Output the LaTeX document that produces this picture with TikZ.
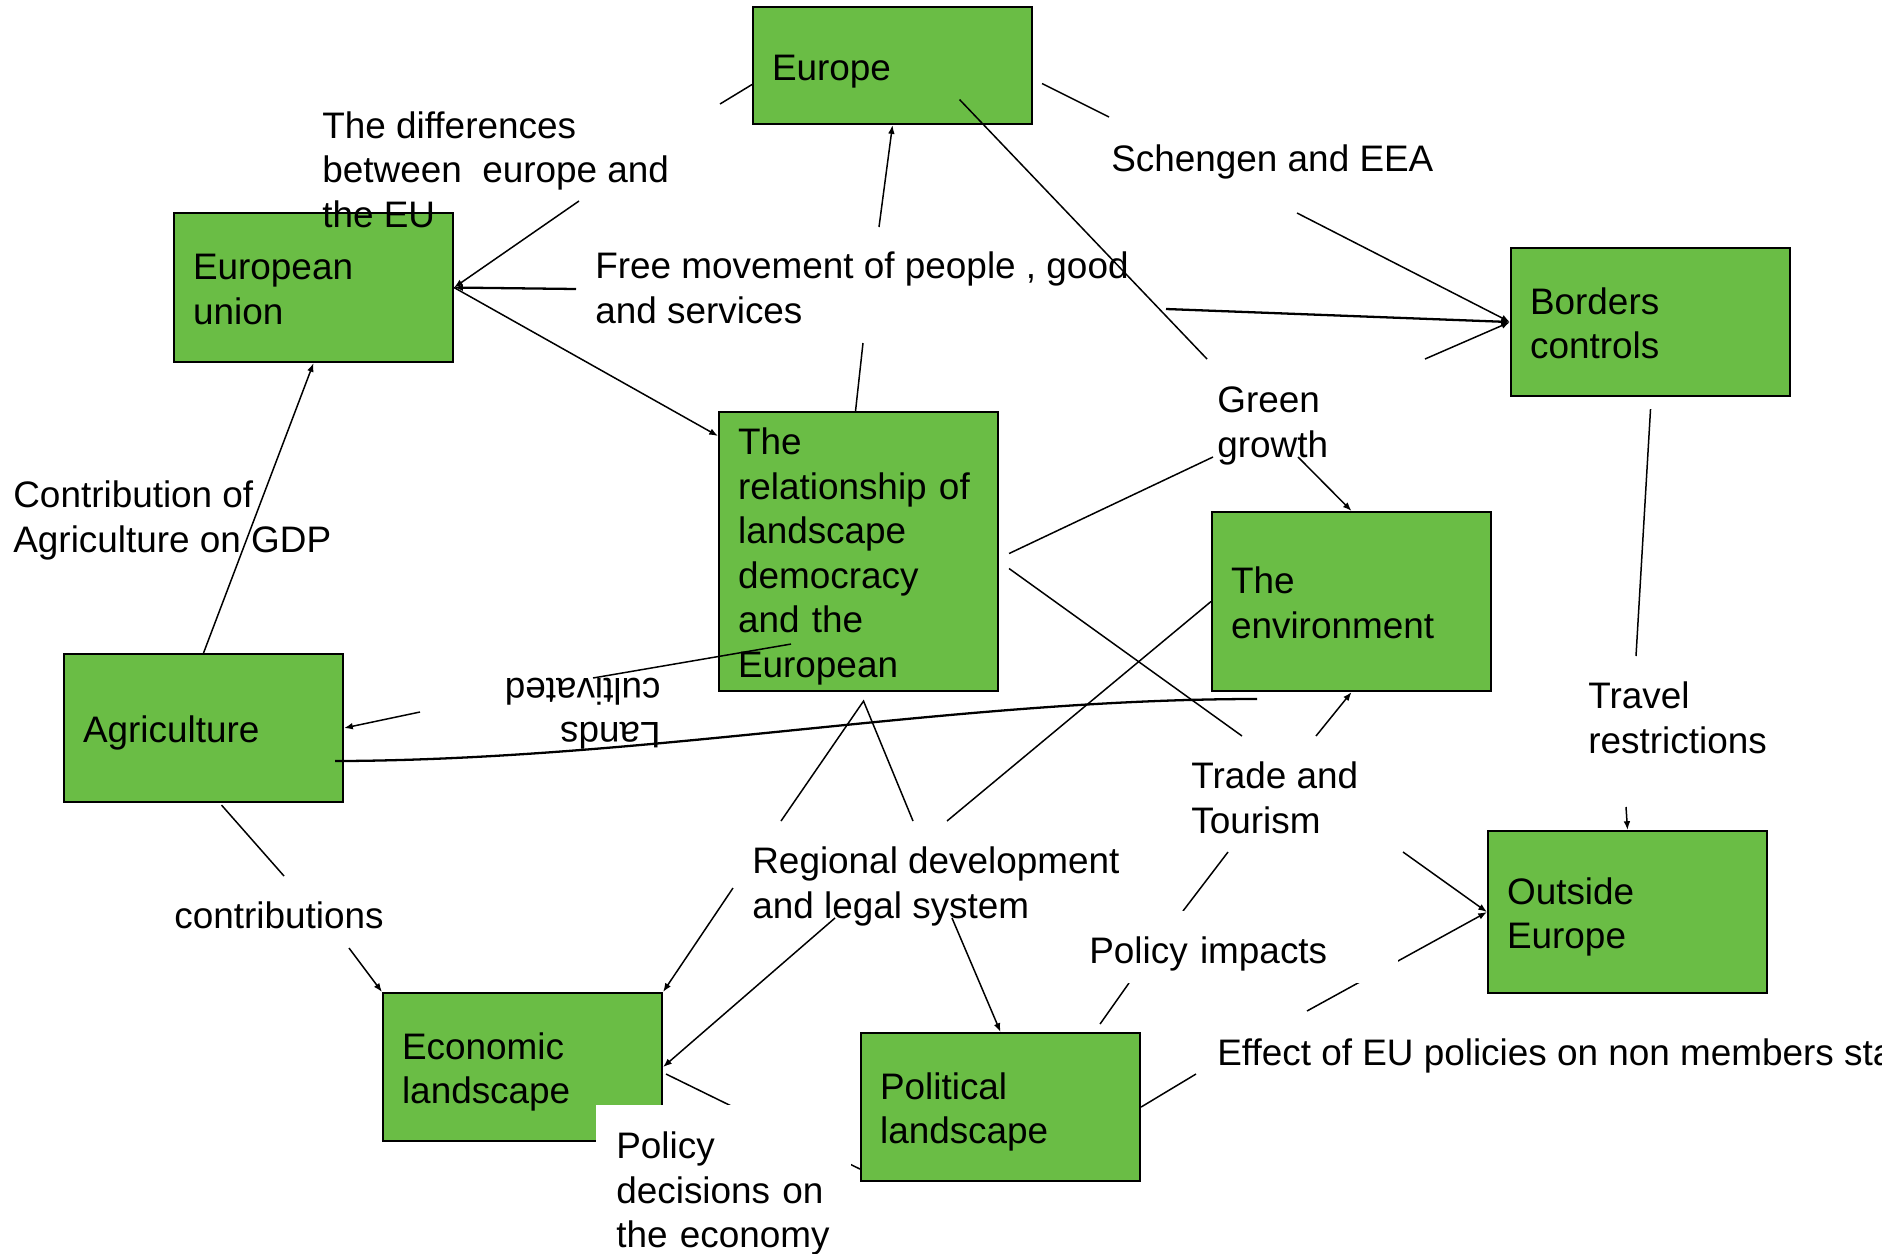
\documentclass[tikz,border=0pt]{standalone}
\usepackage{fontspec}
\setmainfont{Liberation Sans}
\usepackage{tikz}
\usetikzlibrary{
  arrows.meta,
  calc
}
\definecolor{boxgreen}{RGB}{106,189,69}
\tikzset{
  box/.style={
    rectangle, draw=black, line width=1.2pt, fill=boxgreen,
    anchor=north west, minimum width=5.58cm, text width=4.82cm,
    inner xsep=0.38cm, inner ysep=0pt, align=left,
    execute at begin node={\rule{0pt}{0.74cm}},
    execute at end node={\rule[-0.16cm]{0pt}{0.16cm}}
  },
  lbl/.style={
    anchor=base west, inner sep=0pt, align=left
  },
  whitelbl/.style={
    fill=white, anchor=north west, align=left
  },
  link/.style={line width=0.85pt, color=black},
  thicklink/.style={line width=1.3pt, color=black},
  arrow/.style={-{Latex[length=5pt,width=3.8pt]}, line width=0.85pt, color=black},
  thickarrow/.style={arrow, line width=1.3pt}
}

\begin{document}
\begin{tikzpicture}[x=0.02cm, y=-0.02cm, font=\fontsize{21}{25.3}\selectfont]
\useasboundingbox (0,0) rectangle (1903,1254);

\node[box, minimum height=2.34cm] (europe) at (752,6) {Europe};
\node[box, minimum height=2.98cm] (eu) at (173,212) {European\\union};
\node[box, minimum height=2.96cm] (borders) at (1510,247) {Borders\\controls};
\node[box, minimum height=5.58cm] (rel) at (718,411)
  {The\\relationship of\\landscape\\democracy\\and the\\European};
\node[box, minimum height=3.58cm] (env) at (1211,511) {The\\environment};
\node[box, minimum height=2.96cm] (agri) at (63,653) {Agriculture};
\node[box, minimum height=3.24cm] (outside) at (1487,830) {Outside\\Europe};
\node[box, minimum height=2.96cm] (econ) at (382,992) {Economic\\landscape};
\node[box, minimum height=2.96cm] (pol) at (860,1032) {Political\\landscape};

% multi-line labels sit on the baseline of their last line
\node[lbl] (diff) at (322,227) {The differences\\between\ \ europe and\\the EU};
\node[lbl] (free) at (595,323) {Free movement of people , good\\and services};
\node[lbl] (schengen) at (1111,171) {Schengen and EEA};
\node[lbl] (green) at (1217,457) {Green\\growth};
\node[lbl] (contrib) at (13,552) {Contribution of\\Agriculture on GDP};
\node[lbl, rotate=180] (lands) at (661,678) {Lands\\cultivated};
\node[lbl] (contribs) at (174,928) {contributions};
\node[lbl] (regional) at (752,918) {Regional development\\and legal system};
\node[lbl] (trade) at (1191,833) {Trade and\\Tourism};
\node[lbl] (travel) at (1588,753) {Travel\\restrictions};

\coordinate (diffN) at (720,104);
\coordinate (diffE) at (579,201);
\coordinate (freeW) at (576,289);
\coordinate (freeN) at (879,227);
\coordinate (freeS) at (863,343);
\coordinate (freeE) at (1166,309);
\coordinate (schW) at (1109,117);
\coordinate (schS) at (1297,213);
\coordinate (greenN) at (1207,359);
\coordinate (greenE) at (1425,359);
\coordinate (greenW) at (1213,457);
\coordinate (greenS) at (1298,457);
\coordinate (tradeNW) at (1242,736);
\coordinate (tradeN) at (1316,736);
\coordinate (tradeS) at (1228,852);
\coordinate (tradeE) at (1403,852);
\coordinate (travN) at (1636,656);
\coordinate (travS) at (1626,807);
\coordinate (contrN) at (284,876);
\coordinate (contrS) at (349,948);
\coordinate (regNW) at (781,821);
\coordinate (regN) at (913,821);
\coordinate (regNE) at (947,821);
\coordinate (regW) at (733,888);
\coordinate (regSW) at (835,918);
\coordinate (regSE) at (952,918);
\coordinate (landsN) at (593,678);
\coordinate (landsE) at (1257,699);
\coordinate (landsW) at (420,712);
\coordinate (impN) at (1183,911);
\coordinate (impS) at (1129,983);
\coordinate (effN) at (1307,1011);
\coordinate (effW) at (1196,1074);

\draw[link] ($(europe.west)+(0,19)$) -- (diffN);
\draw[arrow] (diffE) -- (eu.east);
\draw[thickarrow] (freeW) -- (eu.east);
\draw[arrow] (eu.east) -- ($(rel.north west)+(0,25)$);
\draw[arrow] (freeN) -- (europe.south);
\draw[link] ($(rel.north)+(-3,0)$) -- (freeS);
\draw[link] ($(europe.center)+(67,34)$) -- (greenN);
\draw[link] ($(europe.east)+(9,18)$) -- (schW);
\draw[arrow] (schS) -- (borders.west);
\draw[thickarrow] (freeE) -- (borders.west);
\draw[arrow] (greenE) -- (borders.west);
\draw[link] ($(borders.south)+(0,12)$) -- (travN);
\draw[arrow] (travS) -- (outside.north);
\draw[link] ($(rel.east)+(10,2)$) -- (greenW);
\draw[arrow] (greenS) -- (env.north);
\draw[link] ($(rel.east)+(10,17)$) -- (tradeNW);
\draw[arrow] (tradeN) -- (env.south);
\draw[link] (env.west) -- (regNE);
\draw[link] (regNW) -- ($(rel.south)+(5,9)$) -- (regN);
\draw[thicklink] ($(agri.east)+(-9,33)$)
  .. controls (650,760) and (950,699) .. (landsE);
\draw[link] ($(rel.south west)+(73,-48)$) -- (landsN);
\draw[arrow] (landsW) -- (agri.east);
\draw[arrow] (agri.north) -- (eu.south);
\draw[link] ($(agri.south)+(18,2)$) -- (contrN);
\draw[arrow] (contrS) -- (econ.north west);
\draw[arrow] (regW) -- (econ.north east);
\draw[arrow] (regSW) -- (econ.east);
\draw[arrow] (regSE) -- (pol.north);
\draw[link] ($(econ.east)+(3,7)$) -- ($(pol.west)+(0,62)$);
\draw[link] ($(pol.north east)+(-41,-8)$) -- (impS);
\draw[link] (impN) -- (tradeS);
\draw[arrow] (tradeE) -- (outside.west);
\draw[arrow] (effN) -- (outside.west);
\draw[link] (pol.east) -- (effW);

\node[whitelbl, inner xsep=0.28cm, inner ysep=0pt, text width=5.9cm,
      text height=1.04cm, text depth=0.4cm] (impacts) at (1075,911)
  {Policy impacts};
\node[whitelbl, inner xsep=0.4cm, inner ysep=0.53cm, text width=4.3cm]
  (decisions) at (596,1105) {Policy\\decisions on\\the economy};

\begin{scope}
  \clip (0,0) rectangle (1881,1254);
  \node[lbl] (effect) at (1217,1065)
    {Effect of EU policies on non members states};
\end{scope}
\end{tikzpicture}
\end{document}
